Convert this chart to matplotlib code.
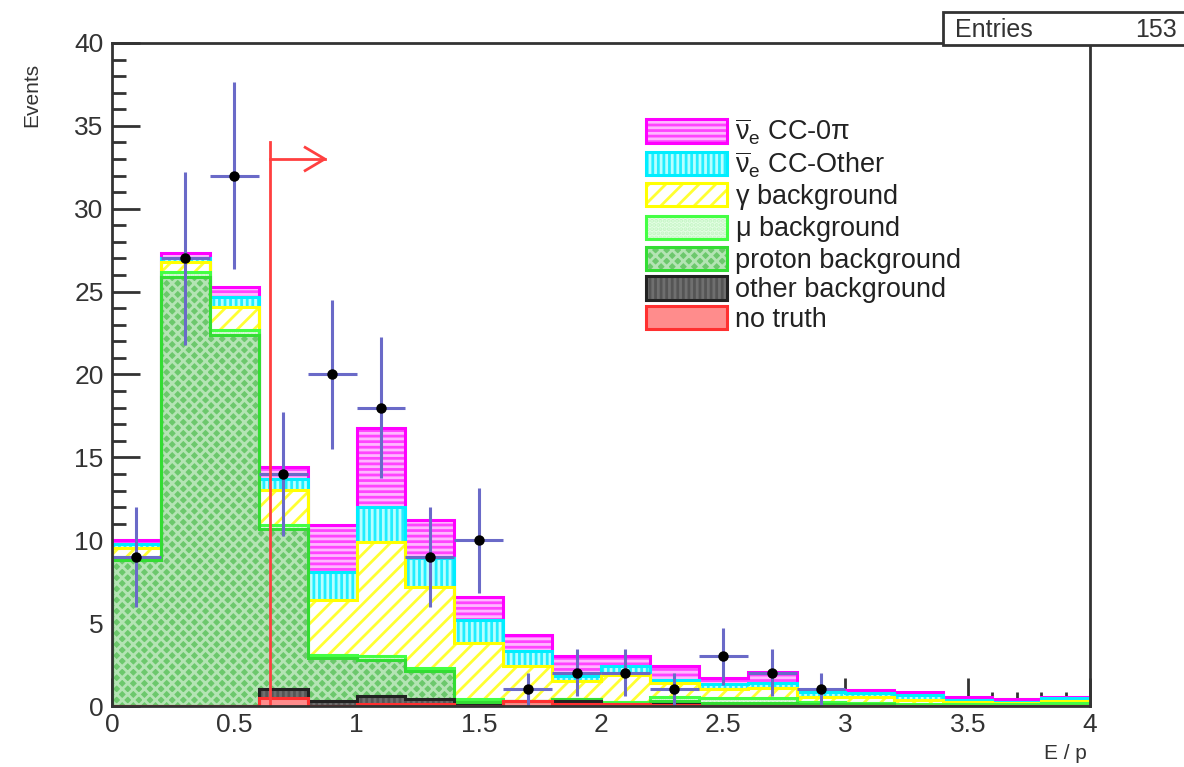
import numpy as np
import matplotlib
matplotlib.use("Agg")
import matplotlib.pyplot as plt
from matplotlib.patches import Patch, Rectangle
from matplotlib.ticker import MultipleLocator
from matplotlib.legend_handler import HandlerTuple

plt.rcParams['font.family'] = ['Liberation Sans', 'DejaVu Sans']
plt.rcParams['mathtext.fontset'] = 'custom'
plt.rcParams['mathtext.rm'] = 'Liberation Sans'
plt.rcParams['mathtext.it'] = 'Liberation Sans:italic'
plt.rcParams['hatch.linewidth'] = 2.0

# ---- data ----
bin_edges = np.round(np.arange(0, 4.01, 0.2), 2)
no_truth = [0, 0, 0, 0.5, 0, 0.1, 0.1, 0, 0.3, 0.1, 0.1, 0.05, 0, 0, 0, 0, 0, 0, 0, 0]
other_bkg = [0, 0, 0, 0.5, 0.3, 0.5, 0.3, 0.05, 0, 0.2, 0.05, 0.05, 0, 0, 0, 0, 0, 0, 0, 0]
proton_bkg = [8.8, 25.9, 22.4, 9.7, 2.6, 2.2, 1.7, 0.2, 0.0, 0.1, 0.0, 0.2, 0.2, 0.2, 0.1, 0.1, 0.0, 0.0, 0.0, 0.0]
mu_bkg = [0.2, 0.3, 0.3, 0.2, 0.2, 0.2, 0.2, 0.2, 0.0, 0.0, 0.1, 0.25, 0.3, 0.3, 0.15, 0.1, 0.15, 0.1, 0.1, 0.2]
gamma_bkg = [0.55, 0.6, 1.4, 2.15, 3.3, 6.9, 4.9, 3.35, 2.1, 1.1, 1.65, 0.85, 0.5, 0.6, 0.3, 0.35, 0.2, 0.15, 0.1, 0.1]
cc_other = [0.25, 0.2, 0.6, 0.65, 1.7, 2.1, 1.7, 1.4, 0.9, 0.3, 0.5, 0.2, 0.3, 0.3, 0.3, 0.25, 0.3, 0.1, 0.05, 0.2]
cc_0pi = [0.2, 0.3, 0.55, 0.7, 2.8, 4.8, 2.3, 1.4, 1.0, 1.2, 0.6, 0.8, 0.4, 0.65, 0.1, 0.15, 0.2, 0.2, 0.2, 0.05]
data_counts = [9, 27, 32, 14, 20, 18, 9, 10, 1, 2, 2, 1, 3, 2, 1, 0, 0, 0, 0, 0]
entries = 153
cut_value = 0.645

components = [
    # values, label, face, hatch colour, hatch, line colour
    (no_truth, 'no truth', '#ff8c8c', '#ff6a6a', '', '#ff3030'),
    (other_bkg, 'other background', '#555555', '#6f6f6f', '|||', '#222222'),
    (proton_bkg, 'proton background', '#6cc86c', '#b4e4b4', 'xxx', '#33dd33'),
    (mu_bkg, r'$\mathrm{\mu}$ background', '#e4ffe4', '#c4f4c4', '....', '#44ff44'),
    (gamma_bkg, r'$\mathrm{\gamma}$ background', '#ffffff', '#ffff33', '//', '#ffff00'),
    (cc_other, r'$\overline{\mathrm{\nu}}_{\mathrm{e}}$ CC-Other', '#b8ffff', '#22eeff', '|||', '#00eeff'),
    (cc_0pi, r'$\overline{\mathrm{\nu}}_{\mathrm{e}}$ CC-0$\mathrm{\pi}$', '#ffb8ff', '#ff44ff', '---', '#ff00ff'),
]

fig = plt.figure(figsize=(11.84, 7.67), dpi=100)
ax = fig.add_axes([0.0946, 0.0795, 0.826, 0.8645])

cum = np.zeros(len(bin_edges) - 1)
tops = []
for vals, lab, face, hcol, hatch, lcol in components:
    cum = cum + np.array(vals)
    tops.append(cum.copy())

# draw from top-most cumulative down (THStack style)
for (vals, lab, face, hcol, hatch, lcol), top in reversed(list(zip(components, tops))):
    ax.stairs(top, bin_edges, baseline=0, fill=True, facecolor=face,
              edgecolor=hcol, hatch=hatch, linewidth=0, zorder=2)
    ax.stairs(top, bin_edges, baseline=0, fill=False, color=lcol,
              linewidth=2.2, zorder=3)

# data points
centers = 0.5 * (bin_edges[:-1] + bin_edges[1:])
d = np.array(data_counts, dtype=float)
m = d > 0
ax.errorbar(centers[m], d[m], yerr=np.sqrt(d[m]), xerr=0.1, fmt='o',
            color='black', ecolor='#6a6ac8', elinewidth=2.2, capsize=0,
            markersize=6.5, zorder=6)

# cut line and arrow
ax.plot([cut_value, cut_value], [0, 34], color='#ff4040', lw=2, zorder=7)
ax.plot([cut_value, 0.87], [33, 33], color='#ff4040', lw=2, zorder=7)
ax.plot([0.79, 0.87, 0.79], [33.7, 33, 32.3], color='#ff4040', lw=2, zorder=7)

ax.set_xlim(0, 4)
ax.set_ylim(0, 40)
ax.xaxis.set_major_locator(MultipleLocator(0.5))
ax.xaxis.set_minor_locator(MultipleLocator(0.1))
ax.yaxis.set_major_locator(MultipleLocator(5))
ax.yaxis.set_minor_locator(MultipleLocator(1))
ax.xaxis.set_major_formatter(plt.FuncFormatter(lambda v, p: ('%g' % v)))
ax.tick_params(axis='both', which='major', direction='in', length=20, width=2,
               color='#333333', labelsize=19, labelcolor='#333333')
ax.tick_params(axis='both', which='minor', direction='in', length=10, width=2,
               color='#333333')
ax.tick_params(axis='x', pad=5)
ax.tick_params(axis='y', pad=6)
for s in ax.spines.values():
    s.set_linewidth(2)
    s.set_color('#333333')
    s.set_zorder(10)

fig.text(0.918, 0.005, 'E / p', ha='right', va='bottom', fontsize=15, color='#333333')
fig.text(0.027, 0.918, 'Events', rotation=90, ha='center', va='top', fontsize=15, color='#333333')

# legend
handles = []
labels = []
for vals, lab, face, hcol, hatch, lcol in reversed(components):
    fillp = Patch(facecolor=face, edgecolor=hcol, hatch=hatch, linewidth=0)
    outl = Patch(facecolor='none', edgecolor=lcol, linewidth=2.2)
    handles.append((fillp, outl))
    labels.append(lab)
leg = ax.legend(handles=handles, labels=labels, loc='upper left',
                bbox_to_anchor=(0.535, 0.905),
                handler_map={tuple: HandlerTuple(ndivide=1, pad=0)},
                frameon=False, fontsize=19.5, handlelength=3.0, handleheight=0.95,
                labelspacing=0.09, handletextpad=0.3, borderaxespad=0)
for t in leg.get_texts():
    t.set_color('#222222')

# Entries box
fig.patches.append(Rectangle((943 / 1184, 1 - 45 / 767), 0.25, 33 / 767,
                             transform=fig.transFigure, facecolor='white',
                             edgecolor='#333333', linewidth=2, zorder=20))
fig.text(955 / 1184, 1 - 30 / 767, 'Entries', ha='left', va='center', fontsize=18,
         color='#333333', zorder=21)
fig.text(1177 / 1184, 1 - 30 / 767, str(entries), ha='right', va='center', fontsize=18,
         color='#333333', zorder=21)

fig.savefig('out.png', dpi=100)
